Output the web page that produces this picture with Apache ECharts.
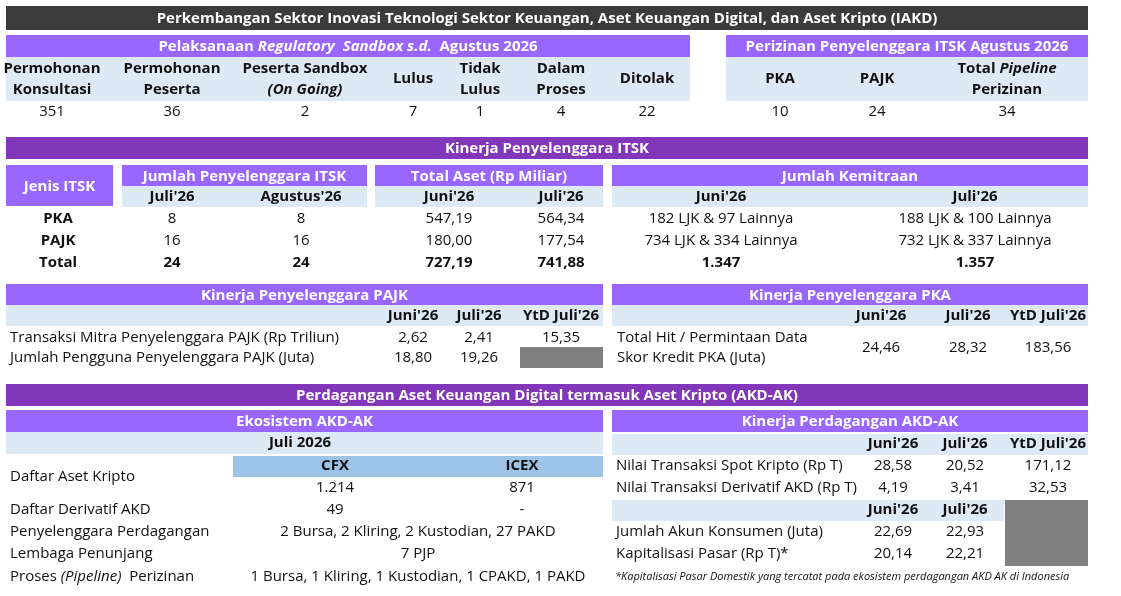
<!DOCTYPE html>
<html><head><meta charset="utf-8">
<script src="https://cdn.jsdelivr.net/npm/echarts@6/dist/echarts.min.js"></script>
<style>html,body{margin:0;background:#fff}#c{width:1121px;height:596px}</style>
</head><body><div id="c"></div>
<script>
// data
const sandboxLabels = [['Permohonan','Konsultasi'],['Permohonan','Peserta'],['Peserta Sandbox','(On Going)'],['Lulus'],['Tidak','Lulus'],['Dalam','Proses'],['Ditolak']];
const sandboxValues = ['351','36','2','7','1','4','22'];
const izinLabels = [['PKA'],['PAJK'],['Total Pipeline','Perizinan']];
const izinValues = ['10','24','34'];
const itskRows = ['PKA','PAJK','Total'];
const itskJumlah = [['8','8'],['16','16'],['24','24']];
const itskAset = [['547,19','564,34'],['180,00','177,54'],['727,19','741,88']];
const itskMitra = [['182 LJK & 97 Lainnya','188 LJK & 100 Lainnya'],['734 LJK & 334 Lainnya','732 LJK & 337 Lainnya'],['1.347','1.357']];
const periodCols = ["Juni'26","Juli'26","YtD Juli'26"];
const pajkRows = ['Transaksi Mitra Penyelenggara PAJK (Rp Triliun)','Jumlah Pengguna Penyelenggara PAJK (Juta)'];
const pajkValues = [['2,62','2,41','15,35'],['18,80','19,26','']];
const pkaValues = ['24,46','28,32','183,56'];
const ekoLabels = ['Daftar Aset Kripto','Daftar Derivatif AKD','Penyelenggara Perdagangan','Lembaga Penunjang','Proses (Pipeline)  Perizinan'];
const ekoCfx = ['1.214','49'];
const ekoIcex = ['871','-'];
const ekoMerged = ['2 Bursa, 2 Kliring, 2 Kustodian, 27 PAKD','7 PJP','1 Bursa, 1 Kliring, 1 Kustodian, 1 CPAKD, 1 PAKD'];
const akdRows1 = ['Nilai Transaksi Spot Kripto (Rp T)','Nilai Transaksi Derivatif AKD (Rp T)'];
const akdValues1 = [['28,58','20,52','171,12'],['4,19','3,41','32,53']];
const akdRows2 = ['Jumlah Akun Konsumen (Juta)','Kapitalisasi Pasar (Rp T)*'];
const akdValues2 = [['22,69','22,93'],['20,14','22,21']];

const FONT = '"Liberation Sans Narrow","Open Sans",sans-serif';
const DARK = '#3b3b3b', PUR = '#9966ff', SEC = '#8236b9', LB = '#dde9f5', BL = '#9dc3e6', GR = '#808080';
const els = [];
function rect(x, y, w, h, fill) {
  els.push({type:'rect', shape:{x, y, width:w, height:h}, style:{fill}});
}
function txt(x, y, s, o = {}) {
  els.push({type:'text', x, y, style:{text:s, fill:o.color || '#111', font:(o.italic ? 'italic ' : '') + (o.bold ? 'bold ' : '') + (o.size || 15) + 'px ' + FONT,
    align:o.align || 'center', verticalAlign:'middle', rich:o.rich}});
}
function head(x, y, w, h, s, fill, o = {}) {
  rect(x, y, w, h, fill);
  txt(x + w / 2, y + h / 2 + 1, s, Object.assign({color:'#fff', bold:true}, o));
}

// title
head(6, 6, 1082, 24, 'Perkembangan Sektor Inovasi Teknologi Sektor Keuangan, Aset Keuangan Digital, dan Aset Kripto (IAKD)', DARK);

// sandbox
rect(6, 35, 684, 22, PUR);
els.push({type:'text', x:348, y:47, style:{text:'{a|Pelaksanaan }{b|Regulatory  Sandbox s.d.}{a|  Agustus 2026}', align:'center', verticalAlign:'middle',
  rich:{a:{fill:'#fff', font:'bold 15px ' + FONT}, b:{fill:'#fff', font:'italic bold 15px ' + FONT}}}});
rect(6, 57, 684, 44, LB);
const sbX = [52, 172, 305, 413, 480, 561, 647];
sandboxLabels.forEach((l, i) => {
  if (l.length === 1) txt(sbX[i], 79, l[0], {bold:true});
  else { txt(sbX[i], 69, l[0], {bold:true}); txt(sbX[i], 90, l[1], {bold:true, italic:i === 2}); }
  txt(sbX[i], 112, sandboxValues[i]);
});
head(726, 35, 362, 22, 'Perizinan Penyelenggara ITSK Agustus 2026', PUR);
rect(726, 57, 362, 44, LB);
const izX = [780, 877, 1007];
izinLabels.forEach((l, i) => {
  if (l.length === 1) txt(izX[i], 79, l[0], {bold:true});
  else {
    els.push({type:'text', x:izX[i], y:69, style:{text:'{a|Total }{b|Pipeline}', align:'center', verticalAlign:'middle',
      rich:{a:{fill:'#111', font:'bold 15px ' + FONT}, b:{fill:'#111', font:'italic bold 15px ' + FONT}}}});
    txt(izX[i], 90, l[1], {bold:true});
  }
  txt(izX[i], 112, izinValues[i]);
});

// kinerja ITSK
head(6, 137, 1082, 22, 'Kinerja Penyelenggara ITSK', SEC);
head(6, 165, 107, 41, 'Jenis ITSK', PUR);
head(122, 165, 245, 21, 'Jumlah Penyelenggara ITSK', PUR);
head(375, 165, 228, 21, 'Total Aset (Rp Miliar)', PUR);
head(612, 165, 476, 21, 'Jumlah Kemitraan', PUR);
rect(122, 186, 245, 21, LB); rect(375, 186, 228, 21, LB); rect(612, 186, 476, 21, LB);
txt(172, 197, "Juli'26", {bold:true}); txt(301, 197, "Agustus'26", {bold:true});
txt(449, 197, "Juni'26", {bold:true}); txt(561, 197, "Juli'26", {bold:true});
txt(721, 197, "Juni'26", {bold:true}); txt(975, 197, "Juli'26", {bold:true});
itskRows.forEach((r, i) => {
  const y = 219 + i * 22, b = i === 2;
  txt(58, y, r, {bold:true});
  txt(172, y, itskJumlah[i][0], {bold:b}); txt(301, y, itskJumlah[i][1], {bold:b});
  txt(449, y, itskAset[i][0], {bold:b}); txt(561, y, itskAset[i][1], {bold:b});
  txt(721, y, itskMitra[i][0], {bold:b}); txt(975, y, itskMitra[i][1], {bold:b});
});

// PAJK
head(6, 284, 597, 21, 'Kinerja Penyelenggara PAJK', PUR);
rect(6, 305, 597, 21, LB);
const pjX = [413, 479, 561];
periodCols.forEach((c, i) => txt(pjX[i], 316, c, {bold:true}));
pajkRows.forEach((r, i) => {
  const y = 338 + i * 20;
  txt(10, y, r, {align:'left'});
  pajkValues[i].forEach((v, j) => { if (v) txt(pjX[j], y, v); });
});
rect(520, 347, 83, 21, GR);

// PKA
head(612, 284, 476, 21, 'Kinerja Penyelenggara PKA', PUR);
rect(612, 305, 476, 21, LB);
const pkX = [881, 968, 1048];
periodCols.forEach((c, i) => txt(pkX[i], 316, c, {bold:true}));
txt(617, 338, 'Total Hit / Permintaan Data', {align:'left'});
txt(617, 358, 'Skor Kredit PKA (Juta)', {align:'left'});
pkaValues.forEach((v, i) => txt(pkX[i], 348, v));

// AKD-AK
head(6, 384, 1082, 22, 'Perdagangan Aset Keuangan Digital termasuk Aset Kripto (AKD-AK)', SEC);
head(6, 410, 597, 22, 'Ekosistem AKD-AK', PUR);
rect(6, 432, 597, 22, LB);
txt(300, 443, 'Juli 2026', {bold:true});
rect(233, 456, 370, 21, BL);
txt(335, 466, 'CFX', {bold:true}); txt(522, 466, 'ICEX', {bold:true});
const ekoY = [477, 510, 532, 554, 577];
ekoLabels.forEach((l, i) => {
  if (i === 4) {
    els.push({type:'text', x:10, y:ekoY[i], style:{text:'{a|Proses }{b|(Pipeline)}{a|  Perizinan}', align:'left', verticalAlign:'middle',
      rich:{a:{fill:'#111', font:'15px ' + FONT}, b:{fill:'#111', font:'italic 15px ' + FONT}}}});
  } else txt(10, ekoY[i], l, {align:'left'});
});
txt(335, 488, ekoCfx[0]); txt(522, 488, ekoIcex[0]);
txt(335, 510, ekoCfx[1]); txt(522, 510, ekoIcex[1]);
ekoMerged.forEach((v, i) => txt(418, ekoY[i + 2], v));

head(612, 410, 476, 22, 'Kinerja Perdagangan AKD-AK', PUR);
rect(612, 434, 476, 21, LB);
const akX = [893, 965, 1048];
periodCols.forEach((c, i) => txt(akX[i], 444, c, {bold:true}));
akdRows1.forEach((r, i) => {
  const y = 466 + i * 22;
  txt(616, y, r, {align:'left'});
  akdValues1[i].forEach((v, j) => txt(akX[j], y, v));
});
rect(612, 500, 392, 21, LB);
txt(akX[0], 510, periodCols[0], {bold:true}); txt(akX[1], 510, periodCols[1], {bold:true});
akdRows2.forEach((r, i) => {
  const y = 532 + i * 22;
  txt(616, y, r, {align:'left'});
  akdValues2[i].forEach((v, j) => txt(akX[j], y, v));
});
rect(1005, 500, 83, 66, GR);
txt(615, 577, '*Kapitalisasi Pasar Domestik yang tercatat pada ekosistem perdagangan AKD AK di Indonesia', {align:'left', italic:true, size:11});

const chart = echarts.init(document.getElementById('c'), null, {renderer:'canvas'});
chart.setOption({animation:false, graphic:{elements:els}});
</script></body></html>
